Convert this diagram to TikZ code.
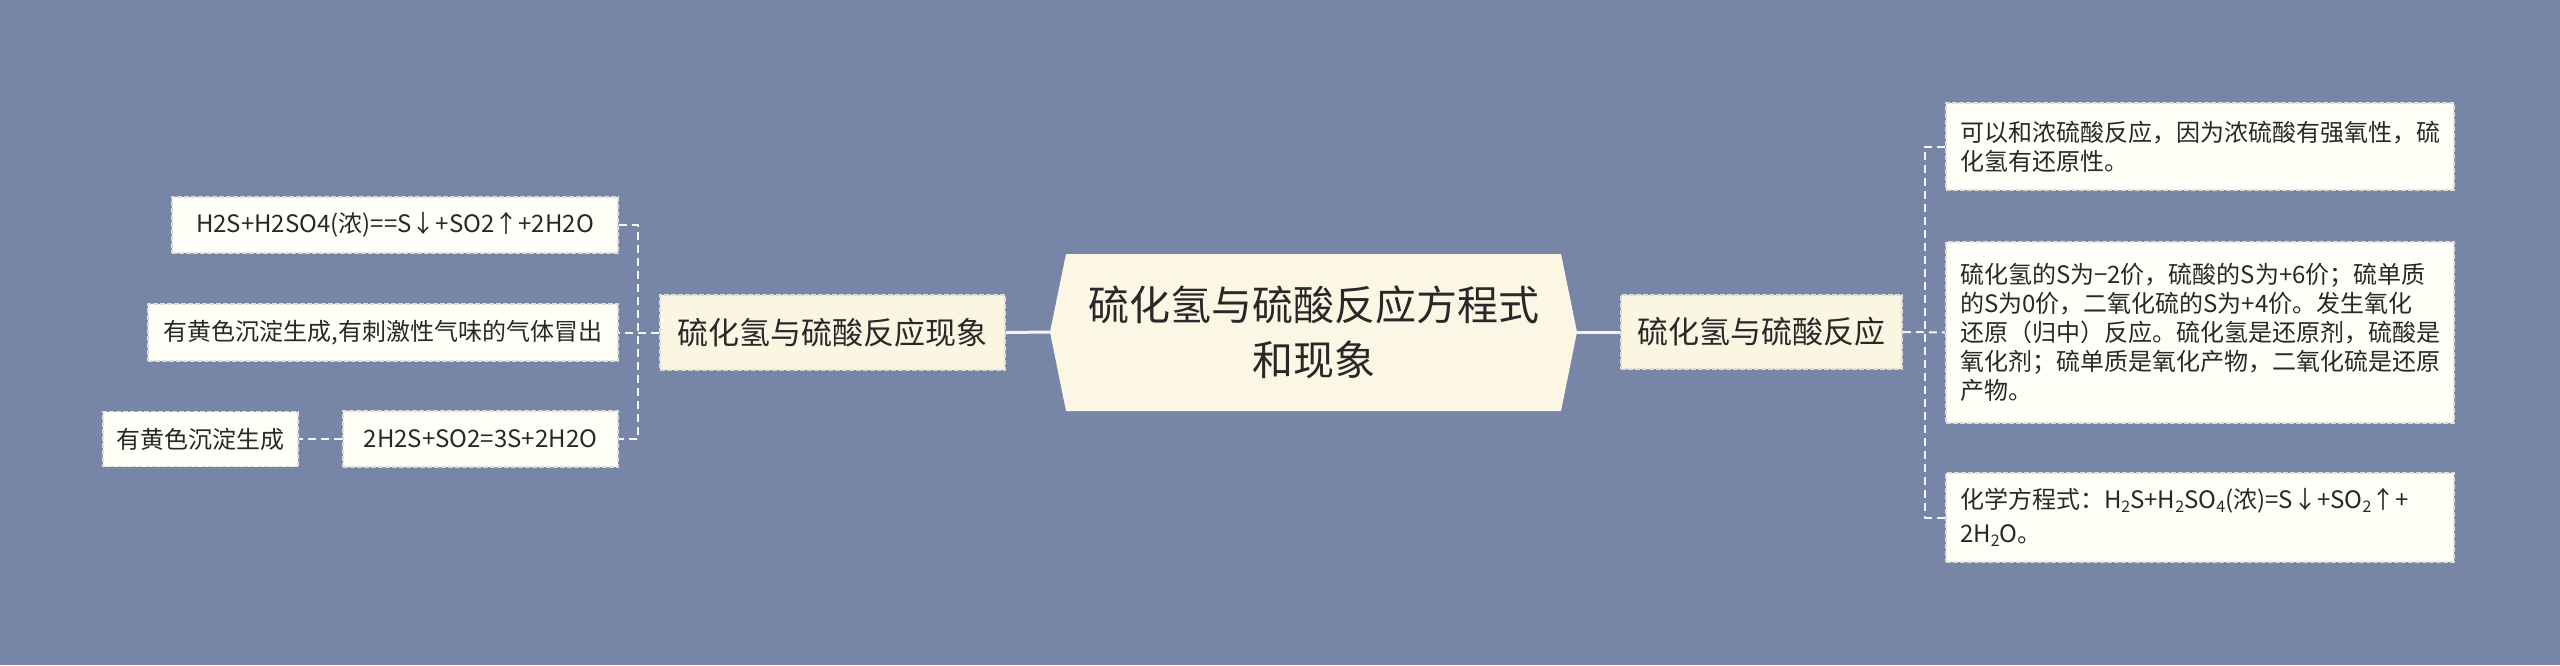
\documentclass[tikz,border=0pt]{standalone}
\usepackage{fontspec}
\setmainfont{Noto Sans CJK SC}
\definecolor{bg}{RGB}{119,134,166}
\definecolor{cfill}{RGB}{251,247,228}
\definecolor{mfill}{RGB}{250,246,226}
\definecolor{lfill}{RGB}{255,254,247}
\definecolor{bdr}{RGB}{222,222,214}
\definecolor{lnc}{RGB}{244,244,244}
\definecolor{txt}{RGB}{40,40,40}
\newcommand\sbs[1]{\raisebox{-0.35ex}{\fontsize{8pt}{8pt}\selectfont #1}}
\begin{document}
\begin{tikzpicture}[x=0.5pt,y=-0.5pt,
  boxbase/.style={draw=bdr, line width=0.75pt, dash pattern=on 2.5pt off 1pt, text=txt, inner sep=0pt},
  leafbox/.style={boxbase, fill=lfill, font=\fontsize{12pt}{14.5pt}\selectfont},
  midbox/.style={boxbase, fill=mfill, font=\fontsize{15.5pt}{18pt}\selectfont},
  conn/.style={draw=lnc, line width=1pt, dash pattern=on 4pt off 2.5pt},
  mainline/.style={draw=lnc, line width=1.5pt}]
\fill[bg] (0,0) rectangle (2560,665);
\useasboundingbox (0,0) rectangle (2560,665);
% centre
\fill[cfill] (1066,254) -- (1561,254) -- (1577,332) -- (1561,411) -- (1066,411) -- (1050,332) -- cycle;
\coordinate (cL) at (1050,332);
\coordinate (cR) at (1577,332);
\node[text=txt, align=center, font=\fontsize{20.5pt}{27.5pt}\selectfont] (centre) at (1313.5,332.5) {硫化氢与硫酸反应方程式\\和现象};
% middle nodes
\node[midbox, minimum width=172.5pt, minimum height=37.5pt] (midL) at (832.5,332.5) {硫化氢与硫酸反应现象};
\node[midbox, minimum width=140.5pt, minimum height=37pt] (midR) at (1761.5,332) {硫化氢与硫酸反应};
% right leaves
\node[leafbox, minimum width=254pt, minimum height=43.5pt, text width=240pt, align=left] (R1) at (2200,146.5)
  {可以和浓硫酸反应，因为浓硫酸有强氧性，硫\\化氢有还原性。};
\node[leafbox, minimum width=254pt, minimum height=90.5pt, text width=240pt, align=left] (R2) at (2200,332.5)
  {硫化氢的S为−2价，硫酸的S为+6价；硫单质\\的S为0价，二氧化硫的S为+4价。发生氧化\\还原（归中）反应。硫化氢是还原剂，硫酸是\\氧化剂；硫单质是氧化产物，二氧化硫是还原\\产物。};
\node[leafbox, minimum width=254pt, minimum height=44.5pt, text width=240pt, align=left, font=\fontsize{12pt}{17pt}\selectfont] (R3) at (2200,517.5)
  {化学方程式：H\sbs{2}S+H\sbs{2}SO\sbs{4}(浓)=S↓+SO\sbs{2}↑+\\2H\sbs{2}O。};
% left leaves
\node[leafbox, minimum width=223pt, minimum height=28pt] (L1) at (395,225) {H2S+H2SO4(浓)==S↓+SO2↑+2H2O};
\node[leafbox, minimum width=235pt, minimum height=28.5pt] (L2) at (383,332.5) {有黄色沉淀生成,有刺激性气味的气体冒出};
\node[leafbox, minimum width=137.5pt, minimum height=28pt] (L3) at (480.5,439) {2H2S+SO2=3S+2H2O};
\node[leafbox, minimum width=97.5pt, minimum height=27.5pt] (L4) at (200.5,439) {有黄色沉淀生成};
% connectors
\coordinate (tR) at (1925,332);
\coordinate (tL) at (638,332);
\draw[mainline] (cL) -- (midL.east);
\draw[mainline] (cR) -- (midR.west);
\draw[conn] (midR.east) -- (R2.west);
\draw[conn] (R1.west) -| (tR) |- (R3.west);
\draw[conn] (midL.west) -- (L2.east);
\draw[conn] (L1.east) -| (tL) |- (L3.east);
\draw[conn] (L3.west) -- (L4.east);
\end{tikzpicture}
\end{document}
